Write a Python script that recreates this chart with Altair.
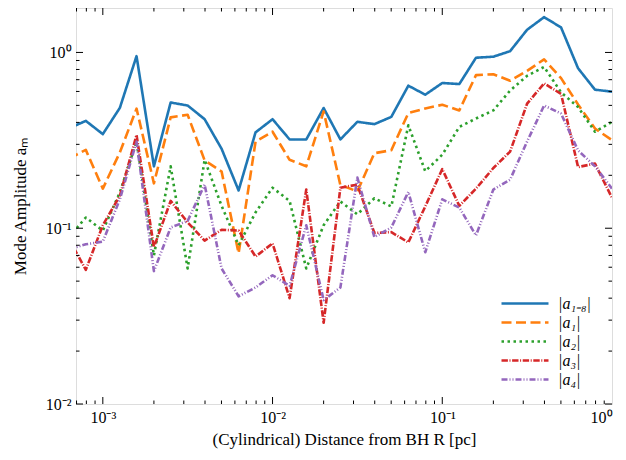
import altair as alt
import pandas as pd

# cylindrical radius [pc] of each bin
R_PC = [0.000631, 0.000794, 0.001, 0.00126, 0.00158, 0.00200, 0.00251, 0.00316,
        0.00398, 0.00501, 0.00631, 0.00794, 0.0100, 0.0126, 0.0158, 0.0200,
        0.0251, 0.0316, 0.0398, 0.0501, 0.0631, 0.0794, 0.100, 0.126,
        0.158, 0.200, 0.251, 0.316, 0.398, 0.501, 0.631, 0.794, 1.0]

A_1_8 = [0.37, 0.408, 0.343, 0.484, 0.953, 0.225, 0.519, 0.499, 0.417, 0.283, 0.164,
         0.351, 0.417, 0.320, 0.320, 0.483, 0.320, 0.403, 0.391, 0.430, 0.647, 0.575,
         0.670, 0.661, 0.933, 0.946, 1.017, 1.346, 1.588, 1.388, 0.813, 0.614, 0.598]
A_1 = [0.249, 0.279, 0.168, 0.27, 0.479, 0.180, 0.427, 0.442, 0.243, 0.21, 0.072,
       0.311, 0.354, 0.245, 0.225, 0.462, 0.176, 0.162, 0.267, 0.278, 0.452, 0.480,
       0.504, 0.468, 0.743, 0.752, 0.690, 0.785, 0.914, 0.714, 0.506, 0.369, 0.317]
A_2 = [0.089, 0.115, 0.097, 0.16, 0.311, 0.070, 0.225, 0.059, 0.245, 0.134, 0.080,
       0.123, 0.170, 0.143, 0.059, 0.104, 0.142, 0.120, 0.148, 0.133, 0.385, 0.211,
       0.262, 0.377, 0.421, 0.468, 0.607, 0.736, 0.827, 0.593, 0.489, 0.354, 0.403]
A_3 = [0.087, 0.058, 0.104, 0.153, 0.339, 0.078, 0.143, 0.108, 0.085, 0.098, 0.097,
       0.069, 0.082, 0.040, 0.166, 0.029, 0.170, 0.177, 0.094, 0.095, 0.083, 0.133,
       0.217, 0.134, 0.168, 0.220, 0.273, 0.511, 0.667, 0.581, 0.223, 0.233, 0.149]
A_4 = [0.076, 0.081, 0.084, 0.146, 0.311, 0.057, 0.101, 0.110, 0.177, 0.059, 0.041,
       0.046, 0.054, 0.047, 0.104, 0.039, 0.046, 0.194, 0.089, 0.101, 0.161, 0.073,
       0.146, 0.131, 0.091, 0.166, 0.189, 0.311, 0.499, 0.449, 0.277, 0.225, 0.168]

MODES = ["|a₁₋₈|", "|a₁|", "|a₂|", "|a₃|", "|a₄|"]
COLORS = ["#1f77b4", "#ff7f0e", "#2ca02c", "#d62728", "#9467bd"]
DASHES = [[1, 0], [10, 4.5], [2.5, 3.5], [6.4, 1.6, 1, 1.6], [6, 2, 1, 2, 1, 2]]
WIDTHS = [2.6, 2.6, 2.6, 0.9, 0.9]

X_MAJOR = [0.001, 0.01, 0.1]
X_MINOR = [0.0007, 0.0008, 0.0009, 0.002, 0.003, 0.004, 0.005, 0.006, 0.007, 0.008, 0.009,
           0.02, 0.03, 0.04, 0.05, 0.06, 0.07, 0.08, 0.09,
           0.2, 0.3, 0.4, 0.5, 0.6, 0.7, 0.8, 0.9]
Y_MAJOR = [0.01, 0.1, 1.0]
Y_MINOR = [0.02, 0.03, 0.04, 0.05, 0.06, 0.07, 0.08, 0.09,
           0.2, 0.3, 0.4, 0.5, 0.6, 0.7, 0.8, 0.9]

W, H = 536, 396
FONT = "Liberation Serif"

rows = []
for name, vals in zip(MODES, [A_1_8, A_1, A_2, A_3, A_4]):
    for i, (r, v) in enumerate(zip(R_PC, vals)):
        rows.append({"R": r, "amp": v, "mode": name, "idx": i})
df = pd.DataFrame(rows)

xscale = alt.Scale(type="log", domain=[6.95e-4, 1.0], nice=False)
yscale = alt.Scale(type="log", domain=[0.01, 1.79], nice=False)

xaxis = alt.Axis(values=[0.001, 0.01, 0.1, 1.0],
                 labelExpr="datum.value < 0.005 ? '10⁻³' : datum.value < 0.05 ? '10⁻²' : datum.value < 0.5 ? '10⁻¹' : '10⁰'",
                 ticks=False, domain=False, grid=False, labelFlush=True,
                 labelFont=FONT, labelFontSize=16, labelColor="black", labelPadding=5,
                 title="(Cylindrical) Distance from BH R [pc]", titleFont=FONT,
                 titleFontSize=17, titleFontWeight="normal", titleColor="black", titlePadding=6)
yaxis = alt.Axis(values=[0.01, 0.1, 1.0],
                 labelExpr="datum.value < 0.05 ? '10⁻²' : datum.value < 0.5 ? '10⁻¹' : '10⁰'",
                 ticks=False, domain=False, grid=False, labelFlush=False,
                 labelFont=FONT, labelFontSize=16, labelColor="black", labelPadding=5,
                 title="Mode Amplitude aₘ", titleFont=FONT,
                 titleFontSize=17, titleFontWeight="normal", titleColor="black", titlePadding=16)

base = alt.Chart(df).mark_line(clip=True, strokeCap="butt", strokeJoin="round").encode(
    x=alt.X("R:Q", scale=xscale, axis=xaxis),
    y=alt.Y("amp:Q", scale=yscale, axis=yaxis),
    color=alt.Color("mode:N", scale=alt.Scale(domain=MODES, range=COLORS),
                    legend=alt.Legend(title=None, orient="none", legendX=424, legendY=286,
                                      symbolType="stroke", symbolSize=2209, clipHeight=19,
                                      rowPadding=0, labelFont=FONT, labelFontSize=16,
                                      labelColor="black", labelOffset=8, labelFontStyle="italic")),
    strokeDash=alt.StrokeDash("mode:N", scale=alt.Scale(domain=MODES, range=DASHES)),
    strokeWidth=alt.StrokeWidth("mode:N", scale=alt.Scale(domain=MODES, range=WIDTHS)),
    order="idx:Q",
)
line_layers = [base.transform_filter(alt.datum.mode == m) for m in MODES]


def xticks(vals, length):
    d = pd.DataFrame({"R": vals})
    bot = alt.Chart(d).mark_rule(color="black", strokeWidth=1).encode(
        x=alt.X("R:Q", scale=xscale, axis=xaxis), y=alt.value(H), y2=alt.value(H - length))
    top = alt.Chart(d).mark_rule(color="black", strokeWidth=1).encode(
        x=alt.X("R:Q", scale=xscale, axis=xaxis), y=alt.value(0), y2=alt.value(length))
    return [bot, top]


def yticks(vals, length):
    d = pd.DataFrame({"amp": vals})
    left = alt.Chart(d).mark_rule(color="black", strokeWidth=1).encode(
        y=alt.Y("amp:Q", scale=yscale, axis=yaxis), x=alt.value(0), x2=alt.value(length))
    right = alt.Chart(d).mark_rule(color="black", strokeWidth=1).encode(
        y=alt.Y("amp:Q", scale=yscale, axis=yaxis), x=alt.value(W), x2=alt.value(W - length))
    return [left, right]


tick_layers = xticks(X_MAJOR, 7) + xticks(X_MINOR, 3.5) + yticks(Y_MAJOR, 7) + yticks(Y_MINOR, 3.5)

chart = alt.layer(*line_layers, *tick_layers).properties(
    width=W, height=H,
    autosize=alt.AutoSizeParams(type="none"),
    padding={"left": 68, "top": 0, "right": 6, "bottom": 47},
).configure_view(stroke="black", strokeWidth=1.2).configure(background="white")

chart.save("out.html", embed_options={"renderer": "svg", "actions": False})
